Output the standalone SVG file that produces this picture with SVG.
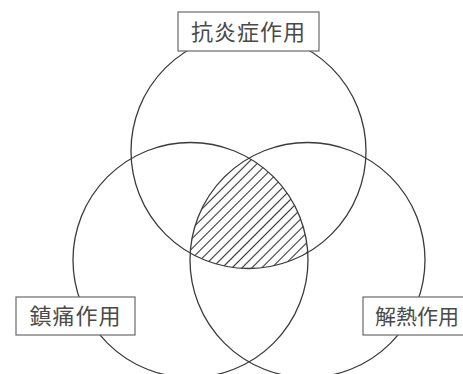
<svg xmlns="http://www.w3.org/2000/svg" width="463" height="374" viewBox="0 0 463 374">
<style>
.c{fill:none;stroke:#3a3a3a;stroke-width:1.3}
.box{fill:#fff;stroke:#6a6a6a;stroke-width:1.2}
.t{font-family:"Noto Sans CJK JP","Noto Sans CJK SC",sans-serif;font-size:22px;fill:#4a4a4a;letter-spacing:1px}
</style>
<defs>
<pattern id="hatch" patternUnits="userSpaceOnUse" width="7" height="7" patternTransform="rotate(-45)">
<line x1="0" y1="3.5" x2="7" y2="3.5" stroke="#333" stroke-width="1.1"/>
</pattern>
<clipPath id="clipL"><circle cx="190.5" cy="260" r="117.5"/></clipPath>
<clipPath id="clipR"><circle cx="307.5" cy="260" r="117.5"/></clipPath>
</defs>
<g id="hatched-region" clip-path="url(#clipL)">
<g clip-path="url(#clipR)">
<circle cx="248.5" cy="151" r="117.5" fill="url(#hatch)"/>
</g>
</g>
<g id="circles">
<circle id="circle-top" class="c" cx="248.5" cy="151" r="117.5"/>
<circle id="circle-left" class="c" cx="190.5" cy="260" r="117.5"/>
<circle id="circle-right" class="c" cx="307.5" cy="260" r="117.5"/>
</g>
<g id="label-top">
<rect class="box" x="178" y="12" width="141" height="39"/>
<text class="t" x="248.5" y="39.5" text-anchor="middle">抗炎症作用</text>
</g>
<g id="label-left">
<rect class="box" x="16" y="297" width="119" height="38"/>
<text class="t" x="75.5" y="324" text-anchor="middle">鎮痛作用</text>
</g>
<g id="label-right">
<rect class="box" x="363" y="297" width="119" height="38"/>
<text class="t" x="375" y="324" style="font-size:21px;letter-spacing:0">解熱作用</text>
</g>
</svg>
